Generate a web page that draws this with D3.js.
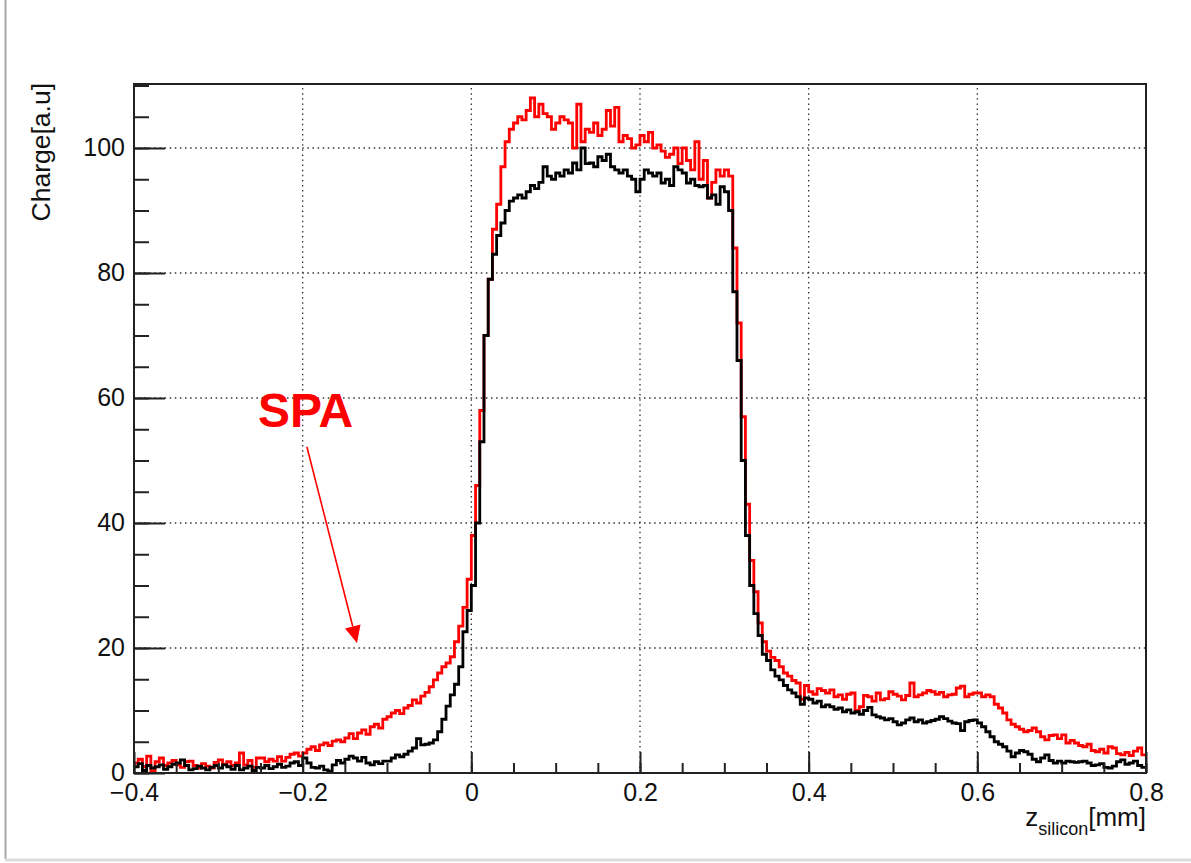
<!DOCTYPE html>
<html>
<head>
<meta charset="utf-8">
<title>Charge profile</title>
<script src="https://d3js.org/d3.v7.min.js"></script>
<style>
  body { margin: 0; background: #fff; }
  svg { display: block; font-family: "Liberation Sans", Arial, sans-serif; }
  .tick text { font-size: 25px; fill: #111; }
  .grid line { stroke: #333; stroke-width: 1.3; stroke-dasharray: 1.5,3.6; }
</style>
</head>
<body>
<script>
// histogram binning (mm)
var binStart = -0.4;
var binWidth = 0.005;

// black curve, charge per bin [a.u]
var chargeBlack = [
  1.0, 1.5, 0.4, 1.2, 0.8, 1.0, 1.3, 0.6, 1.0, 1.4,
  1.6, 2.1, 1.2, 0.5, 0.7, 1.1, 0.8, 0.5, 0.9, 1.2,
  0.8, 1.3, 1.0, 0.6, 1.2, 0.5, 0.8, 1.1, 0.4, 0.9,
  0.8, 1.2, 0.7, 1.0, 1.4, 0.9, 1.1, 1.6, 1.8, 1.2,
  2.4, 1.6, 0.9, 0.8, 1.1, 0.5, 0.3, 1.3, 2.0, 1.6,
  2.2, 2.7, 2.4, 1.9, 2.5, 1.6, 1.3, 1.8, 1.5, 1.9,
  1.9, 2.4, 2.9, 2.6, 3.0, 3.5, 4.0, 5.5, 4.5, 4.6,
  4.8, 5.3, 6.6, 8.6, 10.7, 12.5, 14.2, 17.0, 22.6, 26,
  30, 40, 53, 70, 79, 83, 86, 88, 90, 91.5,
  92, 92.5, 92, 93, 94, 93.5, 94.5, 97, 95.5, 95,
  96, 95.5, 96.5, 96, 97.6, 96.5, 100, 97.5, 97.6, 97,
  98.6, 98, 99, 97, 96.5, 96, 96.5, 95.5, 95, 93,
  95, 96.5, 96, 95.5, 96, 94.4, 95, 94, 97, 96.5,
  96, 94.4, 95, 94, 93.8, 94, 92, 92.5, 91, 93.8,
  93, 90, 77, 66, 50, 38, 30, 25.5, 22, 19,
  18, 16.5, 15.5, 14.9, 14, 13.3, 12.8, 12.2, 11.0, 12.0,
  11.8, 11.2, 11.5, 10.6, 10.9, 10.6, 10.2, 10.4, 9.8, 10.1,
  9.6, 9.8, 9.4, 10.0, 10.5, 9.3, 9.0, 8.8, 8.5, 8.7,
  8.2, 7.7, 8.0, 8.5, 8.8, 8.2, 8.5, 8.0, 8.2, 8.4,
  8.6, 9.0, 8.7, 8.3, 8.0, 7.9, 6.8, 8.2, 8.4, 8.5,
  8.0, 7.4, 6.6, 5.8, 5.0, 4.6, 4.2, 3.5, 2.6, 3.2,
  3.6, 3.4, 3.0, 2.2, 1.8, 2.4, 2.9, 2.0, 1.6, 1.9,
  1.6, 1.9, 1.8, 1.7, 1.8, 1.9, 1.6, 1.2, 1.3, 1.5,
  0.9, 0.8, 1.1, 1.8, 2.1, 1.4, 1.6, 1.9, 1.2, 0.9
];

// red curve (SPA), charge per bin [a.u]
var chargeSPA = [
  1.6, 2.2, 1.0, 2.7, 0.3, 1.8, 2.4, 1.2, 1.6, 2.0,
  1.3, 0.9, 1.8, 1.9, 1.2, 0.8, 1.5, 1.1, 0.8, 1.7,
  2.1, 1.4, 1.8, 1.2, 1.6, 3.2, 1.3, 2.0, 0.9, 2.4,
  2.4, 1.8, 2.2, 1.9, 2.6, 1.9, 2.5, 3.0, 3.2, 2.7,
  3.2, 3.8, 4.2, 3.6, 4.5, 4.8, 4.4, 5.1, 5.3, 5.0,
  5.6, 6.3, 5.5, 6.4, 6.9, 6.2, 7.4, 7.8, 7.2, 8.6,
  9.0, 9.6, 10.0, 9.5, 10.4, 10.8, 11.7, 11.2, 12.3, 12.9,
  13.8, 14.9, 16.0, 17.0, 17.6, 18.6, 21.0, 23.5, 26.5, 31.0,
  38, 46, 58, 70, 79, 87, 91, 97, 101, 103,
  104, 105, 104.5, 106, 108, 105, 107, 105.5, 105, 103,
  104, 105, 104.5, 104, 100, 107, 101, 103, 102.5, 104,
  102, 103, 106, 103.5, 106.5, 101, 102, 101.5, 100, 100.5,
  102, 101, 102.5, 100, 100.5, 99.5, 98.5, 99, 100, 97.5,
  100, 98, 96.5, 101, 95, 98, 92, 94.5, 96.5, 95.5,
  96.5, 95.5, 84, 72, 57, 43, 34, 29, 24, 21,
  19.5, 18.5, 18, 17, 16, 15.5, 14.8, 14.4, 11.8, 14.0,
  13, 12.6, 13.5, 13.2, 12.8, 13.3, 12.2, 12.5, 11.8, 12.6,
  12.8, 10, 10.6, 12.4, 12.2, 11.5, 12.8, 11.7, 11.9, 13,
  12.6, 12.3, 11.7, 12.4, 14.4, 12.2, 12.5, 12.8, 13.2, 13,
  12.6, 12.9, 12.2, 12.5, 12.6, 13.6, 13.9, 12.2, 12.6, 12.8,
  12.8, 12.2, 12.5, 12.2, 11.0, 10.4, 9.6, 8.5, 7.8, 7.4,
  7.0, 6.6, 6.8, 7.2, 6.6, 5.8, 5.3, 6.0, 6.1, 5.5,
  6.1, 4.8, 5.2, 4.8, 4.4, 4.2, 4.6, 3.6, 3.4, 3.8,
  3.2, 4.2, 4.0, 3.1, 2.9, 3.3, 2.8, 3.5, 4.0, 2.9
];

var xMajorTicks = [-0.4, -0.2, 0, 0.2, 0.4, 0.6, 0.8];
var xMinorTicks = d3.range(-0.4, 0.8001, 0.05);
var yMajorTicks = [0, 20, 40, 60, 80, 100];
var yMinorTicks = d3.range(0, 110.01, 5);

var annotText = "SPA";
var annotTextPos = [-0.253, 55.4];
var arrowFrom = [-0.195, 52.2];
var arrowTo = [-0.1356, 20.8];

var W = 1191, H = 863;
var frame = {left: 134, right: 1146, top: 84, bottom: 773};

var x = d3.scaleLinear().domain([-0.4, 0.8]).range([frame.left, frame.right]);
var y = d3.scaleLinear().domain([0, 110.24]).range([frame.bottom, frame.top]);

var svg = d3.select('body').append('svg')
    .attr('width', W)
    .attr('height', H);

// canvas border seen in the screenshot
svg.append('line').attr('x1', 5.5).attr('x2', 5.5).attr('y1', 0).attr('y2', 859)
  .attr('stroke', '#a8a8a8').attr('stroke-width', 2);
svg.append('line').attr('x1', 5).attr('x2', W).attr('y1', 860).attr('y2', 860)
  .attr('stroke', '#dcdcdc').attr('stroke-width', 3);

// dotted grid
var grid = svg.append('g').attr('class', 'grid');
grid.selectAll('.gx')
    .data(xMajorTicks.filter(function(d){ return d > -0.4 && d < 0.8; }))
  .enter().append('line')
    .attr('x1', function(d){ return x(d); })
    .attr('x2', function(d){ return x(d); })
    .attr('y1', frame.bottom).attr('y2', frame.top);
grid.selectAll('.gy')
    .data(yMajorTicks.filter(function(d){ return d > 0; }))
  .enter().append('line')
    .attr('y1', function(d){ return y(d); })
    .attr('y2', function(d){ return y(d); })
    .attr('x1', frame.left).attr('x2', frame.right);

// histograms
svg.append('clipPath').attr('id', 'clip')
  .append('rect')
    .attr('x', frame.left).attr('y', frame.top)
    .attr('width', frame.right - frame.left).attr('height', frame.bottom - frame.top);

function histPoints(vals) {
  var pts = vals.map(function(v, i){ return [binStart + i * binWidth, v]; });
  pts.push([binStart + vals.length * binWidth, vals[vals.length - 1]]);
  return pts;
}
var line = d3.line()
    .x(function(d){ return x(d[0]); })
    .y(function(d){ return y(d[1]); })
    .curve(d3.curveStepAfter);

var plot = svg.append('g').attr('clip-path', 'url(#clip)');
plot.append('path')
    .attr('d', line(histPoints(chargeSPA)))
    .attr('fill', 'none').attr('stroke', '#ff0000').attr('stroke-width', 2.8);
plot.append('path')
    .attr('d', line(histPoints(chargeBlack)))
    .attr('fill', 'none').attr('stroke', '#000').attr('stroke-width', 2.8);

// axes
var fmt = d3.format('');
function styleAxis(g) {
  g.select('.domain').remove();
  g.selectAll('.tick line').attr('stroke', '#222').attr('stroke-width', 2);
}
svg.append('g')
    .attr('transform', 'translate(0,' + frame.bottom + ')')
    .call(d3.axisBottom(x).tickValues(xMinorTicks).tickSize(-10).tickFormat(''))
    .call(styleAxis);
svg.append('g')
    .attr('transform', 'translate(0,' + frame.bottom + ')')
    .call(d3.axisBottom(x).tickValues(xMajorTicks).tickSize(-21).tickPadding(10).tickFormat(fmt))
    .call(styleAxis)
    .selectAll('text').attr('dy', '0.71em');
svg.append('g')
    .attr('transform', 'translate(' + frame.left + ',0)')
    .call(d3.axisLeft(y).tickValues(yMinorTicks).tickSize(-15).tickFormat(''))
    .call(styleAxis);
svg.append('g')
    .attr('transform', 'translate(' + frame.left + ',0)')
    .call(d3.axisLeft(y).tickValues(yMajorTicks).tickSize(-31).tickPadding(9).tickFormat(fmt))
    .call(styleAxis)
    .selectAll('text').attr('dy', '0.3em');

// frame
svg.append('rect')
    .attr('x', frame.left).attr('y', frame.top)
    .attr('width', frame.right - frame.left).attr('height', frame.bottom - frame.top)
    .attr('fill', 'none').attr('stroke', '#222').attr('stroke-width', 2);

// axis titles
var xt = svg.append('text')
    .attr('x', frame.right).attr('y', 826)
    .attr('text-anchor', 'end')
    .attr('font-size', 26).attr('fill', '#111');
xt.append('tspan').text('z');
xt.append('tspan').attr('font-size', 18).attr('dy', 9).text('silicon');
xt.append('tspan').attr('dy', -9).text('[mm]');

svg.append('text')
    .attr('transform', 'translate(50,' + (frame.top - 1) + ') rotate(-90)')
    .attr('text-anchor', 'end')
    .attr('font-size', 26.5).attr('fill', '#111')
    .text('Charge[a.u]');

// SPA annotation
svg.append('text')
    .attr('x', x(annotTextPos[0])).attr('y', y(annotTextPos[1]))
    .attr('font-size', 48).attr('font-weight', 'bold').attr('fill', '#ff0000')
    .text(annotText);

var ax0 = x(arrowFrom[0]), ay0 = y(arrowFrom[1]);
var ax1 = x(arrowTo[0]), ay1 = y(arrowTo[1]);
var len = Math.sqrt((ax1 - ax0) * (ax1 - ax0) + (ay1 - ay0) * (ay1 - ay0));
var ux = (ax1 - ax0) / len, uy = (ay1 - ay0) / len;
var headL = 17, headW = 8;
var bx = ax1 - ux * headL, by = ay1 - uy * headL;
svg.append('line')
    .attr('x1', ax0).attr('y1', ay0).attr('x2', bx).attr('y2', by)
    .attr('stroke', '#ff0000').attr('stroke-width', 1.6);
svg.append('path')
    .attr('d', 'M' + ax1 + ',' + ay1 +
               'L' + (bx - uy * headW) + ',' + (by + ux * headW) +
               'L' + (bx + uy * headW) + ',' + (by - ux * headW) + 'Z')
    .attr('fill', '#ff0000');
</script>
</body>
</html>
